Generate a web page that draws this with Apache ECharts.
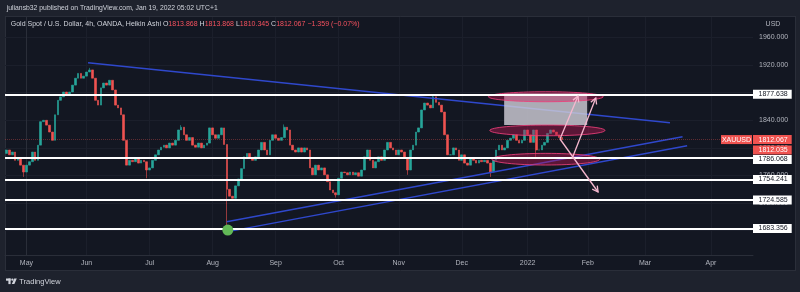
<!DOCTYPE html>
<html><head><meta charset="utf-8">
<script src="https://cdn.jsdelivr.net/npm/echarts@6/dist/echarts.min.js"></script>
<style>html,body{margin:0;padding:0;background:#131722}#c{width:800px;height:292px}</style>
</head><body><div id="c"></div>
<script>
// ---- data ----
const firstDay = '2021-04-22';           // first daily (trading-day) candle
const firstOpen = 1792;
const closes = [
  1797,1790,1794,1782,1785,1775,1765,
  1775,1780,1794,1782,1804,1838,1840,1833,1823,1811,
  1848,1869,1874,1881,1876,1881,1891,1901,1908,1901,
  1904,1910,1913,1901,1869,1862,1887,1894,1891,1898,
  1884,1862,1858,1848,1811,1775,1782,1780,1785,1778,
  1782,1780,1768,1771,1782,1790,1797,1801,1804,1800,
  1807,1804,1811,1826,1830,1819,1811,1815,1804,1801,
  1807,1800,1804,1807,1829,1819,1814,1819,1829,1805,
  1740,1730,1727,1745,1755,1770,1787,1792,1785,1782,
  1787,1797,1808,1797,1790,1811,1819,1814,1811,1815,
  1830,1826,1804,1797,1794,1800,1794,1800,1797,1771,
  1761,1775,1768,1771,1761,1751,1739,1735,1732,1756,
  1765,1764,1761,1765,1761,1764,1759,1768,1787,1797,
  1782,1771,1780,1787,1782,1797,1808,1800,1797,1790,
  1797,1794,1785,1768,1797,1804,1823,1829,1855,1865,
  1862,1858,1874,1866,1862,1852,1819,1790,1790,1800,
  1797,1782,1790,1778,1775,1785,1782,1778,1782,1780,
  1782,1778,1765,1782,1797,1804,1797,1800,1811,1814,
  1819,1811,1807,1811,1826,1819,1808,1826,1797,1797,
  1804,1808,1821,1826,1823,1819,1815,1812.067
];
// [trading-day index, price]
const lowWicks = [[-1,1758],[42,1756],[70,1684],[108,1728],[133,1761],[162,1758],[178,1787]];
const highWicks = [[22,1916],[54,1833],[90,1834],[142,1877]];
const levels = [1877.638, 1786.068, 1754.241, 1724.585, 1683.356];
const lastPrice = 1812.067;
const lastPrice2 = 1812.035;
const priceTicks = [1680,1720,1760,1800,1840,1880,1920,1960];
const monthLabels = ['May','Jun','Jul','Aug','Sep','Oct','Nov','Dec','2022','Feb','Mar','Apr'];
const monthStarts = ['2021-05-03','2021-06-01','2021-07-01','2021-08-02','2021-09-01','2021-10-01','2021-11-01','2021-12-01','2022-01-03','2022-02-01','2022-03-01','2022-04-01'];
// drawings: [x1, y1, x2, y2] in trading-day index / price
const trendLines = [[21.5,1923.4,224.7,1836.5],[69.9,1693.0,229.1,1816.2],[70.3,1678.7,230.7,1803.1]];
const zoneRect = [[166.8,195.8,1879.1,1833.1]];
const zoneEllipses = [[161.3,201.4,1881.4,1866.9],[161.8,202.0,1833.1,1817.6],[162.5,200.2,1792.1,1775.2]];
const arrows = [[186.3,1812.9,192.6,1875.1],[186.3,1812.9,199.6,1736.1],[190.5,1784.4,198.8,1872.3]];
const lowMarker = [[70.3,1681.0]];
const headerLine1 = 'juliansb32 published on TradingView.com, Jan 19, 2022 05:02 UTC+1';
const headerTitle = 'Gold Spot / U.S. Dollar, 4h, OANDA, Heikin Ashi';
const ohlcKeys = ['O','H','L','C'];
const ohlcValues = ['1813.868','1813.868','1810.345','1812.067'];
const changeText = '\u22121.359 (\u22120.07%)';

// ---- helpers ----
const BASE = Date.UTC(2021,4,3);
function tradingIndex(s){
  const [y,m,d] = s.split('-').map(Number); const t = Date.UTC(y,m-1,d); let n=0;
  if (t >= BASE) { for (let u=BASE; u<t; u+=86400000){ const w=new Date(u).getUTCDay(); if(w!==0&&w!==6) n++; } }
  else { for (let u=t; u<BASE; u+=86400000){ const w=new Date(u).getUTCDay(); if(w!==0&&w!==6) n--; } }
  return n;
}
const startIdx = tradingIndex(firstDay);
const monthIdx = monthStarts.map(tradingIndex);
const lowMap = {}; lowWicks.forEach(w=>lowMap[w[0]]=w[1]);
const highMap = {}; highWicks.forEach(w=>highMap[w[0]]=w[1]);
const candleData = closes.map((c,i)=>{
  const x = startIdx + i; const o = i ? closes[i-1] : firstOpen;
  let lo = Math.min(o,c), hi = Math.max(o,c);
  if (lowMap[x] !== undefined) lo = lowMap[x];
  if (highMap[x] !== undefined) hi = highMap[x];
  return [x,o,c,lo,hi];
});
const FONT = '"Liberation Sans", Arial, sans-serif';
function fitScale(str, font, target){ const c=document.createElement('canvas').getContext('2d'); c.font=font; return target / c.measureText(str).width; }

const X_MIN = -7.5, X_MAX = 253.7;
const RED = '#ef5350';

const line2Plain = headerTitle + ' ' + ohlcKeys.map((k,i)=>k+ohlcValues[i]).join(' ') + ' ' + changeText;
let line2Rich = '{t|' + headerTitle + ' }';
ohlcKeys.forEach((k,i)=>{ line2Rich += '{k|' + k + '}{v|' + ohlcValues[i] + ' }'; });
line2Rich += '{v|' + changeText + '}';
const f7 = '7px ' + FONT;
const s1 = fitScale(headerLine1, f7, 211);
const s2 = fitScale(line2Plain, f7, 349);

const baseLabel = {show:true, position:'end', distance:0,
  backgroundColor:'#ffffff', color:'#131722', fontSize:7, fontFamily:FONT, padding:[1,4,0.5,5.5], lineHeight:7.5};
function lab(text, extra){ return Object.assign({}, baseLabel, {formatter:text}, extra || {}); }

const markData = levels.map((v,i)=>({yAxis:v, lineStyle:{color:'#ffffff', width:2, type:'solid'},
  label: lab(v.toFixed(3), i===1 ? {offset:[0,2]} : null)}));
markData.push({yAxis:lastPrice, lineStyle:{color:'rgba(239,83,80,0.35)', width:1, type:'dotted'},
  label: lab(lastPrice.toFixed(3), {backgroundColor:RED, color:'#ffffff'})});
markData.push({yAxis:lastPrice2, lineStyle:{color:'rgba(0,0,0,0)', width:0},
  label: lab(lastPrice2.toFixed(3), {backgroundColor:RED, color:'#ffffff', offset:[0,10.5]})});

const chart = echarts.init(document.getElementById('c'), null, {renderer:'canvas', width:800, height:292});
chart.setOption({
  backgroundColor:'#131722',
  animation:false,
  grid:{left:5, right:47, top:17, bottom:37},
  xAxis:{type:'value', min:X_MIN, max:X_MAX,
    axisLine:{show:true, lineStyle:{color:'#2a2e39'}},
    axisTick:{show:false, customValues:monthIdx},
    axisLabel:{customValues:monthIdx, formatter:v=>monthLabels[monthIdx.indexOf(v)], color:'#b2b5be', fontSize:7, fontFamily:FONT, margin:4.5},
    splitLine:{show:true, lineStyle:{color:'#1b1f2b', width:1}}},
  yAxis:{type:'value', position:'right', min:1644.8, max:1989.7,
    axisLine:{show:true, lineStyle:{color:'#2a2e39'}},
    axisTick:{show:false, customValues:priceTicks},
    axisLabel:{customValues:priceTicks, formatter:v=>v.toFixed(3), color:'#b2b5be', fontSize:7, fontFamily:FONT, margin:6},
    splitLine:{show:true, lineStyle:{color:'#1b1f2b', width:1}}},
  graphic:[
    {type:'rect', shape:{x:0,y:0,width:800,height:17}, style:{fill:'#1e222d'}, silent:true},
    {type:'rect', shape:{x:0,y:271,width:800,height:21}, style:{fill:'#1e222d'}, silent:true},
    {type:'rect', shape:{x:0,y:17,width:5,height:254}, style:{fill:'#1e222d'}, silent:true},
    {type:'rect', shape:{x:796,y:17,width:4,height:254}, style:{fill:'#1e222d'}, silent:true},
    {type:'line', shape:{x1:5,y1:16.5,x2:796,y2:16.5}, style:{stroke:'#2a2e39', lineWidth:1}, silent:true},
    {type:'line', shape:{x1:5,y1:270.5,x2:796,y2:270.5}, style:{stroke:'#2a2e39', lineWidth:1}, silent:true},
    {type:'line', shape:{x1:5.5,y1:17,x2:5.5,y2:271}, style:{stroke:'#2a2e39', lineWidth:1}, silent:true},
    {type:'line', shape:{x1:795.5,y1:17,x2:795.5,y2:271}, style:{stroke:'#2a2e39', lineWidth:1}, silent:true},
    {type:'text', x:6.7, y:8.5, scaleX:s1, style:{text:headerLine1, fill:'#d1d4dc', font:f7, verticalAlign:'middle'}, silent:true},
    {type:'text', x:10.7, y:24.5, scaleX:s2, z:100, style:{text:line2Rich, verticalAlign:'middle', font:f7,
      rich:{t:{fill:'#d1d4dc', font:f7}, k:{fill:'#d1d4dc', font:f7}, v:{fill:'#f7525f', font:f7}}}, silent:true},
    {type:'text', x:773, y:24.5, style:{text:'USD', fill:'#b2b5be', font:f7, align:'center', verticalAlign:'middle'}, silent:true},
    // TradingView footer logo + name
    {type:'rect', shape:{x:6,y:278.5,width:4.6,height:2.2}, style:{fill:'#d1d4dc'}, silent:true},
    {type:'rect', shape:{x:8.4,y:278.5,width:2.2,height:5.6}, style:{fill:'#d1d4dc'}, silent:true},
    {type:'circle', shape:{cx:12.4,cy:279.7,r:1.15}, style:{fill:'#d1d4dc'}, silent:true},
    {type:'polygon', shape:{points:[[14.2,278.5],[16.8,278.5],[14.4,284.1],[11.8,284.1]]}, style:{fill:'#d1d4dc'}, silent:true},
    {type:'text', x:19.3, y:281.5, style:{text:'TradingView', fill:'#d1d4dc', font:'7.5px '+FONT, verticalAlign:'middle'}, silent:true}
  ],
  series:[
    {type:'candlestick', name:'XAUUSD', z:2, data:candleData, encode:{x:0, y:[1,2,3,4]},
      barWidth:2.2,
      itemStyle:{color:'#26a69a', color0:RED, borderColor:'#26a69a', borderColor0:RED, borderWidth:0.6},
      markLine:{symbol:'none', silent:true, animation:false, z:5, precision:3, data:markData}},
    {type:'custom', name:'trend', z:3, data:trendLines, encode:{x:[0,2], y:[1,3]},
      renderItem:(p,api)=>{ const a=api.coord([api.value(0),api.value(1)]), b=api.coord([api.value(2),api.value(3)]);
        return {type:'line', shape:{x1:a[0],y1:a[1],x2:b[0],y2:b[1]}, style:{stroke:'#2f48cc', lineWidth:1.4}}; }},
    {type:'custom', name:'zone', z:4, data:zoneRect, encode:{x:[0,1], y:[2,3]},
      renderItem:(p,api)=>{ const a=api.coord([api.value(0),api.value(2)]), b=api.coord([api.value(1),api.value(3)]);
        return {type:'rect', shape:{x:a[0],y:a[1],width:b[0]-a[0],height:b[1]-a[1]}, style:{fill:'rgba(206,204,214,0.82)'}}; }},
    {type:'custom', name:'ellipses', z:4, data:zoneEllipses, encode:{x:[0,1], y:[2,3]},
      renderItem:(p,api)=>{ const a=api.coord([api.value(0),api.value(2)]), b=api.coord([api.value(1),api.value(3)]);
        return {type:'ellipse', shape:{cx:(a[0]+b[0])/2, cy:(a[1]+b[1])/2, rx:Math.abs(b[0]-a[0])/2, ry:Math.abs(b[1]-a[1])/2},
          style:{fill:'rgba(190,25,85,0.42)', stroke:'rgba(236,64,122,0.85)', lineWidth:1}}; }},
    {type:'custom', name:'arrows', z:6, data:arrows, encode:{x:[0,2], y:[1,3]},
      renderItem:(p,api)=>{ const a=api.coord([api.value(0),api.value(1)]), b=api.coord([api.value(2),api.value(3)]);
        const dx=b[0]-a[0], dy=b[1]-a[1], L=Math.hypot(dx,dy), ux=dx/L, uy=dy/L, h=6.5, ang=0.5;
        const rot=(t)=>[b[0]-h*(ux*Math.cos(t)-uy*Math.sin(t)), b[1]-h*(ux*Math.sin(t)+uy*Math.cos(t))];
        const l=rot(ang), r=rot(-ang); const st={stroke:'#f6b8cf', lineWidth:1.3};
        return {type:'group', children:[
          {type:'line', shape:{x1:a[0],y1:a[1],x2:b[0],y2:b[1]}, style:st},
          {type:'polyline', shape:{points:[l,b,r]}, style:Object.assign({fill:null},st)}]}; }},
    {type:'custom', name:'low', z:10, data:lowMarker, encode:{x:0, y:1},
      renderItem:(p,api)=>{ const a=api.coord([api.value(0),api.value(1)]);
        return {type:'circle', shape:{cx:a[0],cy:a[1],r:5.5}, style:{fill:'#62b957'}}; }},
    {type:'custom', name:'symbolTag', z:10, data:[[X_MAX,lastPrice]], encode:{x:0, y:1}, clip:false,
      renderItem:(p,api)=>{ const a=api.coord([api.value(0),api.value(1)]);
        return {type:'group', children:[
          {type:'rect', shape:{x:a[0]-32,y:a[1]-4.5,width:31,height:9}, style:{fill:RED}},
          {type:'text', style:{x:a[0]-16.5, y:a[1]+0.3, text:'XAUUSD', fill:'#ffffff', font:f7, align:'center', verticalAlign:'middle'}}]}; }}
  ]
});
</script></body></html>
